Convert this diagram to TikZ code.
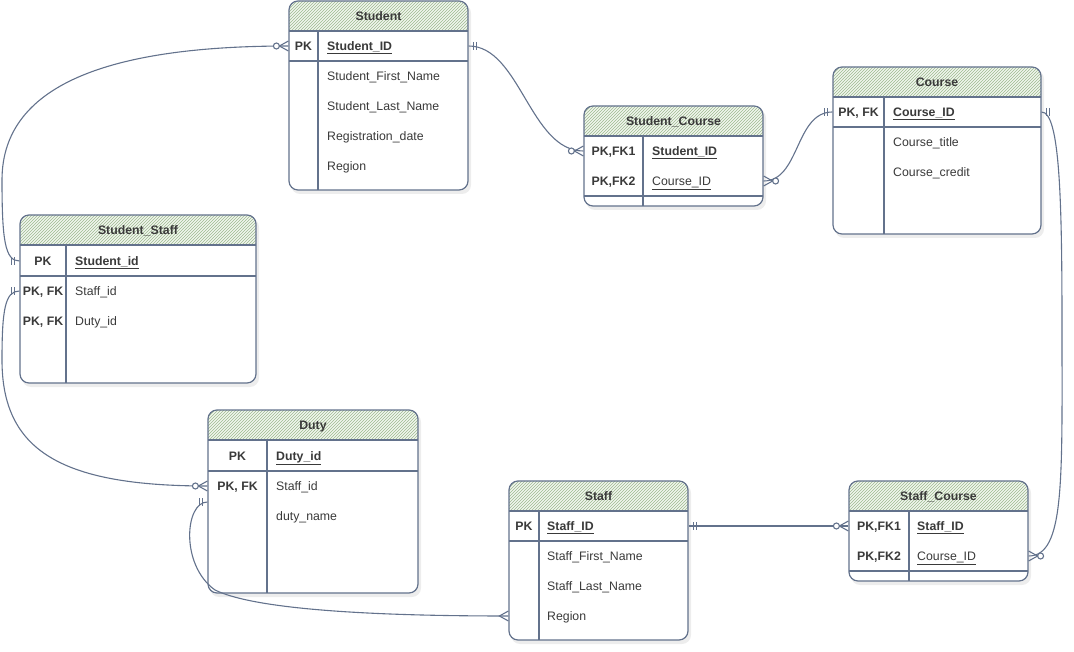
\documentclass[tikz,border=0pt]{standalone}
\usepackage{fontspec}
\setmainfont{Liberation Sans}
\usetikzlibrary{patterns,fit}
\definecolor{edge}{HTML}{63728C}
\definecolor{txt}{HTML}{3A3A3A}
\definecolor{hatch}{HTML}{9DBA8F}
\definecolor{hdrbg}{HTML}{F1F6EE}
\tikzset{
  tblframe/.style={draw=edge, line width=1.2pt, rounded corners=9pt, inner sep=0pt},
  gridline/.style={draw=edge, line width=1.1pt},
  key/.style={font=\fontsize{12.3}{14}\selectfont\bfseries, text=txt, anchor=center, inner sep=0pt, text height=8.8pt, text depth=0pt},
  attr/.style={font=\fontsize{12.3}{14}\selectfont, text=txt, anchor=west, inner sep=0pt, text height=8.8pt, text depth=0pt},
  pkattr/.style={attr, font=\fontsize{12.3}{14}\selectfont\bfseries},
  ttl/.style={font=\fontsize{12.3}{14}\selectfont\bfseries, text=txt, inner sep=0pt, text height=8.8pt, text depth=0pt},
  conn/.style={draw=edge, line width=1.1pt},
  onemark/.pic={\draw[conn] (5,-4)--(5,4) (8,-4)--(8,4);},
  zeromany/.pic={\draw[conn] (0,-5)--(9,0)--(0,5); \draw[conn, fill=white] (12,0) circle (3pt);},
  manymark/.pic={\draw[conn] (0,-5)--(9,0)--(0,5);}
}
% #1 name #2 left #3 top #4 right #5 bottom #6 divider #7 title #8 separator y
\newcommand\ertable[8]{%
  \fill[black, opacity=0.07, rounded corners=9pt] (#2+2,#3+3) rectangle (#4+3,#5+4);
  \begin{scope}
    \clip[rounded corners=9pt] (#2,#3) rectangle (#4,#5);
    \fill[white] (#2,#3) rectangle (#4,#5);
    \fill[hdrbg] (#2,#3) rectangle (#4,#3+30);
    \fill[pattern=north east lines, pattern color=hatch] (#2,#3) rectangle (#4,#3+30);
  \end{scope}
  \coordinate (#1-nw) at (#2,#3);
  \coordinate (#1-se) at (#4,#5);
  \node[tblframe, fit=(#1-nw)(#1-se)] (#1) {};
  \draw[gridline] (#2,#3+30) -- (#4,#3+30) (#2,#8) -- (#4,#8) (#6,#3+30) -- (#6,#5);
  \node[ttl] (#1-title) at ({(#2+#4)/2},#3+15) {#7};
}
\begin{document}
\begin{tikzpicture}[x=1pt,y=-1pt]
\useasboundingbox (0,0) rectangle (1074,652);

% ---------- tables ----------
\ertable{student}{289}{1}{468}{190}{318}{Student}{61}
\node[key] (stu-k1) at (303.5,46) {PK};
\node[pkattr] (stu-a1) at (327,46) {\underline{Student\_ID}};
\node[attr] (stu-a2) at (327,76) {Student\_First\_Name};
\node[attr] (stu-a3) at (327,106) {Student\_Last\_Name};
\node[attr] (stu-a4) at (327,136) {Registration\_date};
\node[attr] (stu-a5) at (327,166) {Region};

\ertable{stucourse}{584}{106}{763}{206}{643}{Student\_Course}{196}
\node[key] (sc-k1) at (613.5,151) {PK,FK1};
\node[key] (sc-k2) at (613.5,181) {PK,FK2};
\node[pkattr] (sc-a1) at (652,151) {\underline{Student\_ID}};
\node[attr] (sc-a2) at (652,181) {\underline{Course\_ID}};

\ertable{course}{833}{67}{1041}{234}{884}{Course}{127}
\node[key] (co-k1) at (858.5,112) {PK, FK};
\node[pkattr] (co-a1) at (893,112) {\underline{Course\_ID}};
\node[attr] (co-a2) at (893,142) {Course\_title};
\node[attr] (co-a3) at (893,172) {Course\_credit};

\ertable{stustaff}{20}{215}{256}{383}{66}{Student\_Staff}{276}
\node[key] (ss-k1) at (43,261) {PK};
\node[key] (ss-k2) at (43,291) {PK, FK};
\node[key] (ss-k3) at (43,321) {PK, FK};
\node[pkattr] (ss-a1) at (75,261) {\underline{Student\_id}};
\node[attr] (ss-a2) at (75,291) {Staff\_id};
\node[attr] (ss-a3) at (75,321) {Duty\_id};

\ertable{duty}{208}{410}{418}{593}{267}{Duty}{471}
\node[key] (du-k1) at (237.5,456) {PK};
\node[key] (du-k2) at (237.5,486) {PK, FK};
\node[pkattr] (du-a1) at (276,456) {\underline{Duty\_id}};
\node[attr] (du-a2) at (276,486) {Staff\_id};
\node[attr] (du-a3) at (276,516) {duty\_name};

\ertable{staff}{509}{481}{688}{640}{539}{Staff}{541}
\node[key] (st-k1) at (524,526) {PK};
\node[pkattr] (st-a1) at (547,526) {\underline{Staff\_ID}};
\node[attr] (st-a2) at (547,556) {Staff\_First\_Name};
\node[attr] (st-a3) at (547,586) {Staff\_Last\_Name};
\node[attr] (st-a4) at (547,616) {Region};

\ertable{staffcourse}{849}{481}{1028}{581}{909}{Staff\_Course}{571}
\node[key] (stc-k1) at (879,526) {PK,FK1};
\node[key] (stc-k2) at (879,556) {PK,FK2};
\node[pkattr] (stc-a1) at (917,526) {\underline{Staff\_ID}};
\node[attr] (stc-a2) at (917,556) {\underline{Course\_ID}};

% ---------- attach points ----------
\coordinate (p1a) at (student.west |- stu-a1);
\coordinate (p1b) at (stustaff.west |- ss-a1);
\coordinate (p2a) at (student.east |- stu-a1);
\coordinate (p2b) at (stucourse.west |- sc-a1);
\coordinate (p3a) at (stucourse.east |- sc-a2);
\coordinate (p3b) at (course.west |- co-a1);
\coordinate (p4a) at (course.east |- co-a1);
\coordinate (p4b) at (staffcourse.east |- stc-a2);
\coordinate (p5a) at (staff.east |- st-a1);
\coordinate (p5b) at (staffcourse.west |- stc-a1);
\coordinate (p6a) at (stustaff.west |- ss-a2);
\coordinate (p6b) at (duty.west |- du-a2);
\coordinate (p7a) at ([yshift=-16pt]duty.west |- du-a2);
\coordinate (p7b) at (staff.west |- st-a4);

% ---------- connectors ----------
\draw[conn] (p1a) .. controls (120,46) and (2,80) .. (2,180) .. controls (2,240) and (5,261) .. (p1b);
\draw[conn] (p2a) .. controls (520,46) and (530,151) .. (p2b);
\draw[conn] (p3a) .. controls (800,181) and (795,112) .. (p3b);
\draw[conn] (p4a) .. controls (1060,112) and (1062,200) .. (1062,330) .. controls (1062,480) and (1065,556) .. (p4b);
\draw[conn] (p5a) -- (p5b);
\draw[conn] (p6a) .. controls (5,291) and (2,310) .. (2,360) .. controls (2,450) and (60,486) .. (p6b);
\draw[conn] (p7a) .. controls (185,502) and (180,565) .. (215,590) .. controls (260,612) and (400,616) .. (p7b);

% ---------- end markers ----------
\pic[rotate=180] at (p1a) {zeromany};
\pic[rotate=180] at (p1b) {onemark};
\pic at (p2a) {onemark};
\pic[rotate=180] at (p2b) {zeromany};
\pic at (p3a) {zeromany};
\pic[rotate=180] at (p3b) {onemark};
\pic at (p4a) {onemark};
\pic at (p4b) {zeromany};
\pic at (p5a) {onemark};
\pic[rotate=180] at (p5b) {zeromany};
\pic[rotate=180] at (p6a) {onemark};
\pic[rotate=180] at (p6b) {zeromany};
\pic[rotate=180] at (p7a) {onemark};
\pic[rotate=180] at (p7b) {manymark};
\end{tikzpicture}
\end{document}
